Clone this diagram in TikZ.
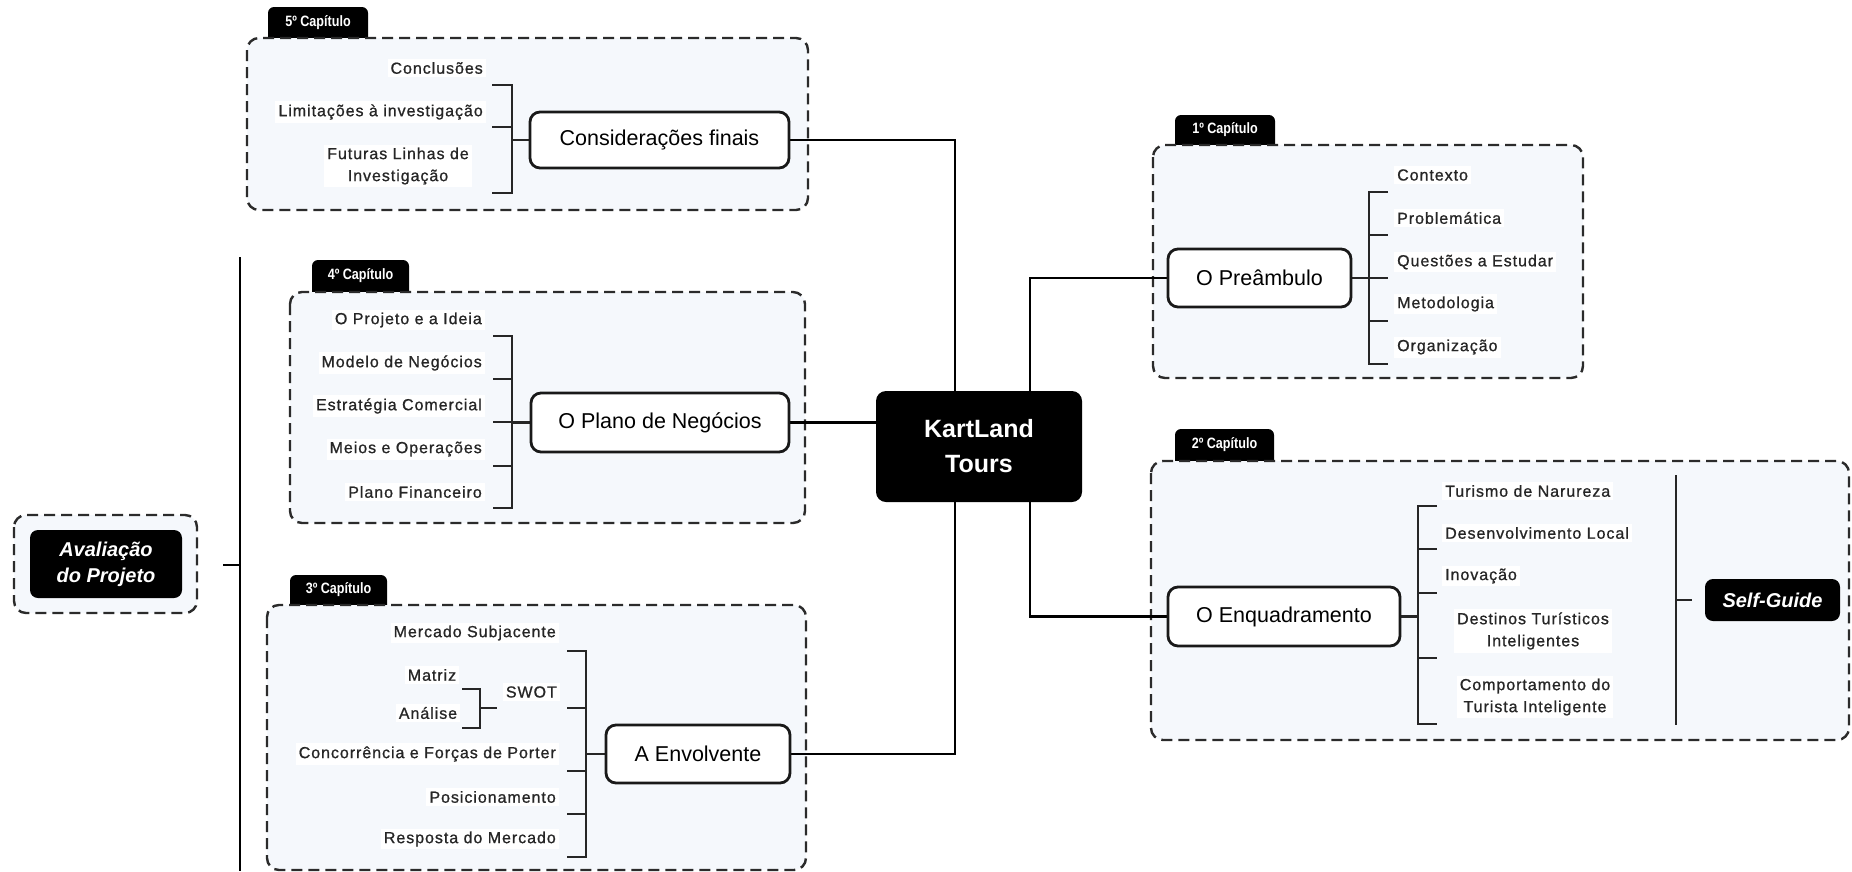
\documentclass[tikz,border=0pt]{standalone}
\usepackage{fontspec}
\setmainfont{Liberation Sans}
\newfontfamily\tabfont[FakeStretch=0.84]{Liberation Sans}
\newfontfamily\itemfont[LetterSpace=6,FakeBold=0.9]{Liberation Sans}
\usetikzlibrary{calc}
\pgfdeclarelayer{back}
\pgfdeclarelayer{mid}
\pgfsetlayers{back,mid,main}

\definecolor{ink}{HTML}{262626}
\definecolor{panel}{HTML}{F5F8FC}
\definecolor{frame}{HTML}{2B2B2B}

\tikzset{
  chapter/.style={draw=frame, line width=2.4pt, dash pattern=on 11pt off 6pt, rounded corners=12pt, fill=panel},
  tabbg/.style={fill=black, rounded corners=6pt},
  tablabel/.style={text=white, font=\tabfont\bfseries\fontsize{15}{18}\selectfont, inner sep=0pt},
  topic/.style={draw=black!90, line width=2.8pt, rounded corners=10pt, fill=white,
                font=\fontsize{21.5}{26}\selectfont, inner sep=0pt},
  item/.style={font=\itemfont\fontsize{16}{22}\selectfont, text=ink, fill=white, inner sep=3pt, align=center},
  hub/.style={fill=black, rounded corners=10pt, text=white, font=\bfseries\fontsize{25}{35}\selectfont,
              align=center, inner sep=0pt},
  badge/.style={fill=black, rounded corners=8pt, text=white, font=\bfseries\itshape\fontsize{20}{26}\selectfont,
                align=center, inner sep=0pt},
  link/.style={draw=black, line width=2.4pt},
  brace/.style={draw=ink, line width=2.4pt},
}

\begin{document}
\begin{tikzpicture}[x=1pt,y=-1pt]
\useasboundingbox (0,0) rectangle (1852,871);

% ---------- chapter panels with their tabs ----------
\begin{pgfonlayer}{back}
  \fill[tabbg] (268,7) rectangle (368,50);
  \draw[chapter] (247,38) rectangle (808,210);
  \fill[tabbg] (312,260) rectangle (409,304);
  \draw[chapter] (290,292) rectangle (805,523);
  \fill[tabbg] (290,575) rectangle (387,617);
  \draw[chapter] (267,605) rectangle (806,870);
  \fill[tabbg] (1175,115) rectangle (1275,157);
  \draw[chapter] (1153,145) rectangle (1583,378);
  \fill[tabbg] (1175,429) rectangle (1274,473);
  \draw[chapter] (1151,461) rectangle (1849,740);
  \draw[chapter] (14,515) rectangle (197,613);
\end{pgfonlayer}

\node[tablabel] (tab5) at (318,23) {5º Capítulo};
\node[tablabel] (tab4) at (360.5,276) {4º Capítulo};
\node[tablabel] (tab3) at (338.5,590) {3º Capítulo};
\node[tablabel] (tab1) at (1225,130) {1º Capítulo};
\node[tablabel] (tab2) at (1224.5,445) {2º Capítulo};

% ---------- central hub and chapter topics ----------
\node[hub, minimum width=206pt, minimum height=111pt] (kt) at (979,446.5) {KartLand\\Tours};
\node[topic, minimum width=259pt, minimum height=56pt] (cf) at (659.5,140) {Considerações finais};
\node[topic, minimum width=258pt, minimum height=59pt] (pn) at (660,422.5) {O Plano de Negócios};
\node[topic, minimum width=184pt, minimum height=58pt] (ae) at (698,754) {A Envolvente};
\node[topic, minimum width=183pt, minimum height=58pt] (pa) at (1259.5,278) {O Preâmbulo};
\node[topic, minimum width=232pt, minimum height=59pt] (en) at (1284,616.5) {O Enquadramento};
\node[badge, minimum width=152pt, minimum height=68pt] (av) at (106,564) {Avaliação\\do Projeto};
\node[badge, minimum width=135pt, minimum height=42pt] (sg) at (1772.5,600) {Self-Guide};

% ---------- 5th chapter items ----------
\node[item, anchor=east] (c5a) at (486,68) {Conclusões};
\node[item, anchor=east] (c5b) at (486,112) {Limitações à investigação};
\node[item] (c5c) at (398,166) {Futuras Linhas de\\Investigação};

% ---------- 4th chapter items ----------
\node[item, anchor=east] (c4a) at (485,320) {O Projeto e a Ideia};
\node[item, anchor=east] (c4b) at (485,363) {Modelo de Negócios};
\node[item, anchor=east] (c4c) at (485,406) {Estratégia Comercial};
\node[item, anchor=east] (c4d) at (485,449) {Meios e Operações};
\node[item, anchor=east] (c4e) at (485,492) {Plano Financeiro};

% ---------- 3rd chapter items ----------
\node[item, anchor=east] (c3a) at (559,633) {Mercado Subjacente};
\node[item] (c3m) at (432,675) {Matriz};
\node[item] (c3n) at (428,713) {Análise};
\node[item, anchor=east] (c3b) at (560,692) {SWOT};
\node[item, anchor=east] (c3c) at (559,754) {Concorrência e Forças de Porter};
\node[item, anchor=east] (c3d) at (559,797) {Posicionamento};
\node[item, anchor=east] (c3e) at (559,839) {Resposta do Mercado};

% ---------- 1st chapter items ----------
\node[item, anchor=west] (c1a) at (1394,175) {Contexto};
\node[item, anchor=west] (c1b) at (1394,218) {Problemática};
\node[item, anchor=west] (c1c) at (1394,262) {Questões a Estudar};
\node[item, anchor=west] (c1d) at (1394,304) {Metodologia};
\node[item, anchor=west] (c1e) at (1394,347) {Organização};

% ---------- 2nd chapter items ----------
\node[item, anchor=west] (c2a) at (1442,491) {Turismo de Narureza};
\node[item, anchor=west] (c2b) at (1442,533) {Desenvolvimento Local};
\node[item, anchor=west] (c2c) at (1442,576) {Inovação};
\node[item] (c2d) at (1533,631) {Destinos Turísticos\\Inteligentes};
\node[item] (c2e) at (1535,697) {Comportamento do\\Turista Inteligente};

% ---------- connectors ----------
\begin{pgfonlayer}{mid}
  % left spine through the hub
  \coordinate (jl1) at (955,140);
  \coordinate (jl2) at (955,754);
  \draw[link] (cf.east) -- (jl1) -- (jl2) -- (ae.east);
  \draw[link] (pn.east) -- (pn.east -| kt.west);
  % right spine through the hub
  \coordinate (jr1) at (1030,278);
  \coordinate (jr2) at (1030,616.5);
  \draw[link] (pa.west) -- (jr1) -- (jr2) -- (en.west);

  % 5th chapter bracket
  \draw[brace] (492,85) -- (512,85) -- (512,193) -- (492,193);
  \draw[brace] (492,127) -- (512,127);
  \draw[brace] (512,140) -- (cf.west);

  % 4th chapter bracket
  \draw[brace] (493,336) -- (512,336) -- (512,508) -- (493,508);
  \foreach \yy in {379,422,466} \draw[brace] (493,\yy) -- (512,\yy);
  \draw[brace] (512,422.5) -- (pn.west);

  % 3rd chapter brackets
  \draw[brace] (462,689) -- (480,689) -- (480,728) -- (462,728);
  \draw[brace] (480,708) -- (497,708);
  \draw[brace] (567,651) -- (586,651) -- (586,857) -- (567,857);
  \foreach \yy in {708,771,814} \draw[brace] (567,\yy) -- (586,\yy);
  \draw[brace] (586,754) -- (ae.west);

  % 1st chapter bracket
  \draw[brace] (1388,192) -- (1369,192) -- (1369,364) -- (1388,364);
  \foreach \yy in {235,278,321} \draw[brace] (1369,\yy) -- (1388,\yy);
  \draw[brace] (pa.east) -- (1369,278);

  % 2nd chapter bracket and the Self-Guide divider
  \draw[brace] (1437,506) -- (1418,506) -- (1418,724) -- (1437,724);
  \foreach \yy in {549,593,658} \draw[brace] (1418,\yy) -- (1437,\yy);
  \draw[brace] (en.east) -- (1418,616.5);
  \coordinate (sgv1) at (1676,475);
  \coordinate (sgv2) at (1676,725);
  \coordinate (sgj) at (1676,600);
  \draw[brace] (sgv1) -- (sgv2);
  \draw[brace] (sgj) -- ($(sg.west)+(-13,0)$);

  % project evaluation divider
  \coordinate (avv1) at (240,257);
  \coordinate (avv2) at (240,871);
  \coordinate (avj) at (240,565);
  \draw[link] (avv1) -- (avv2);
  \draw[link] (avj) -- ++(-17,0);
\end{pgfonlayer}
\end{tikzpicture}
\end{document}
